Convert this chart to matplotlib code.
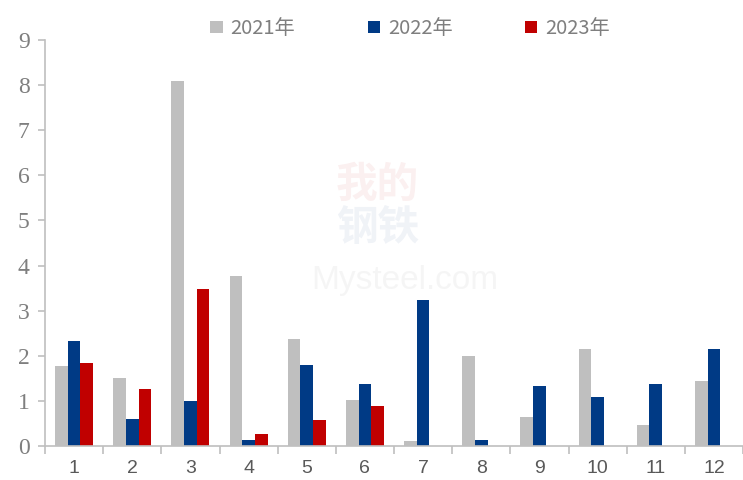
import numpy as np
import matplotlib
matplotlib.use('Agg')
import matplotlib.pyplot as plt

# ============================================================
# DATA
# ============================================================
months = ['1', '2', '3', '4', '5', '6', '7', '8', '9', '10', '11', '12']
series_names = ['2021年', '2022年', '2023年']
v2021 = [1.78, 1.50, 8.10, 3.77, 2.38, 1.02, 0.12, 2.00, 0.64, 2.14, 0.47, 1.43]
v2022 = [2.33, 0.60, 1.00, 0.13, 1.79, 1.37, 3.24, 0.13, 1.34, 1.09, 1.37, 2.14]
v2023 = [1.83, 1.26, 3.48, 0.26, 0.58, 0.89]
colors = ['#bfbfbf', '#003a85', '#c00000']

# ============================================================
# FIGURE
# ============================================================
fig = plt.figure(figsize=(7.43, 4.80), dpi=100)
ax = fig.add_axes([45/743, 1 - 446/480, 698/743, 406/480])

x = np.arange(len(months)) + 0.5
w = 0.217
ax.bar(x - w, v2021, w, color=colors[0], label=series_names[0])
ax.bar(x, v2022, w, color=colors[1], label=series_names[1])
ax.bar(x[:len(v2023)] + w, v2023, w, color=colors[2], label=series_names[2])

ax.set_xlim(0, 12)
ax.set_ylim(0, 9)
ax.set_yticks(range(10))
ax.set_yticklabels([str(i) for i in range(10)], family='Liberation Serif',
                   fontsize=17, color='#7f7f7f')
ax.set_xticks(x)
ax.set_xticklabels(months, family='Liberation Sans', fontsize=14, color='#595959')
ax.set_xticks(np.arange(0, 13), minor=True)
ax.tick_params(axis='x', which='major', length=0, pad=10)
ax.tick_params(axis='x', which='minor', length=6, color='#bfbfbf', width=1.2)
ax.tick_params(axis='y', length=5, color='#bfbfbf', width=1.2, pad=6)

for s in ['top', 'right']:
    ax.spines[s].set_visible(False)
for s in ['left', 'bottom']:
    ax.spines[s].set_color('#bfbfbf')
    ax.spines[s].set_linewidth(1.2)

# watermark
fig.text(0.508, 0.615, '我的', family='Noto Sans CJK SC', fontsize=30,
         color='#c00000', alpha=0.06, ha='center', va='center', weight='bold')
fig.text(0.508, 0.525, '钢铁', family='Noto Sans CJK SC', fontsize=30,
         color='#003a85', alpha=0.06, ha='center', va='center', weight='bold')
fig.text(0.545, 0.415, 'Mysteel.com', family='Liberation Sans', fontsize=24,
         color='#7f7f7f', alpha=0.07, ha='center', va='center')

leg = fig.legend(loc='upper center', bbox_to_anchor=(0.552, 1.0), ncol=3,
                 frameon=False, handlelength=0.6, handleheight=0.6,
                 handletextpad=0.4, columnspacing=3.6,
                 prop={'family': ['Noto Sans CJK SC', 'DejaVu Sans'], 'size': 14.5})
for t in leg.get_texts():
    t.set_color('#7f7f7f')

plt.savefig('out.png', dpi=100)
plt.close()
